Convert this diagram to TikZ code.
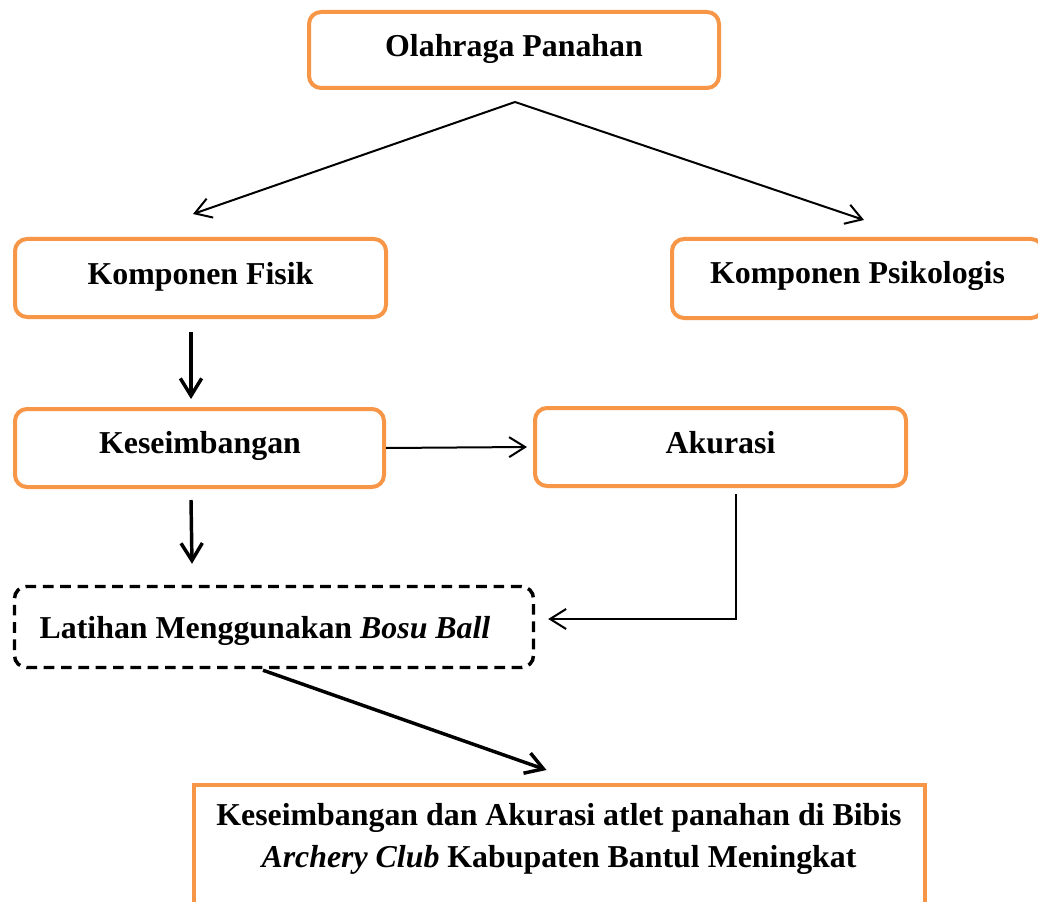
\documentclass[tikz,border=0pt]{standalone}
\usepackage{fontspec}
\setmainfont{Liberation Serif}
\usetikzlibrary{arrows.meta,calc}
\definecolor{boxorange}{HTML}{F79646}
\tikzset{
  obox/.style={draw=boxorange, line width=3pt, rounded corners=9pt, inner sep=0pt},
  sbox/.style={draw=boxorange, line width=3pt, inner sep=0pt},
  dbox/.style={draw=black, line width=2.6pt, rounded corners=9pt, inner sep=0pt, dash pattern=on 8pt off 5pt},
  txt/.style={anchor=base, inner sep=0pt, font=\fontsize{23.9}{30.75}\selectfont\bfseries, align=center},
  thinarrow/.style={line width=1.5pt, -{Straight Barb[length=12pt,width=15pt]}},
  thickarrow/.style={line width=2.6pt, -{Straight Barb[length=13pt,width=16pt]}},
}
\begin{document}
\begin{tikzpicture}[x=0.75pt,y=-0.75pt]
\clip (0,0) rectangle (1038,902);
\fill[white] (0,0) rectangle (1038,902);
% boxes
\node[obox, minimum width={410*0.75pt}, minimum height={76*0.75pt}] (olah) at (514,50) {};
\node[obox, minimum width={371*0.75pt}, minimum height={78*0.75pt}] (fisik) at (200.5,278) {};
\node[obox, minimum width={371*0.75pt}, minimum height={79*0.75pt}] (psiko) at (857.5,278.5) {};
\node[obox, minimum width={369*0.75pt}, minimum height={78*0.75pt}] (kes) at (199.5,448) {};
\node[obox, minimum width={371*0.75pt}, minimum height={78*0.75pt}] (aku) at (720.5,447) {};
\node[dbox, minimum width={519*0.75pt}, minimum height={81*0.75pt}] (lat) at (274,627) {};
\node[sbox, minimum width={731*0.75pt}, minimum height={165*0.75pt}] (hasil) at (559.5,867.5) {};
% texts
\node[txt] (tolah) at (514,57) {Olahraga Panahan};
\node[txt] (tfisik) at (200.5,284) {Komponen Fisik};
\node[txt] (tpsiko) at (857.5,283) {Komponen Psikologis};
\node[txt] (tkes) at (200,453) {Keseimbangan};
\node[txt] (taku) at (720.5,453) {Akurasi};
\node[txt] (tlat) at (265,638) {Latihan Menggunakan \textit{Bosu Ball}};
\node[txt] (thasil1) at (559,825) {Keseimbangan dan Akurasi atlet panahan di Bibis};
\node[txt] (thasil2) at (559,867) {\textit{Archery Club} Kabupaten Bantul Meningkat};
% connectors
\coordinate (split) at ($(olah.south)+(1,12)$);
\coordinate (tipL) at ($(fisik.north)+(-7.5,-23)$);
\coordinate (tipR) at ($(psiko.north)+(6.5,-17)$);
\draw[thinarrow] (split) -- (tipL);
\draw[thinarrow] (split) -- (tipR);
\draw[thickarrow] ($(fisik.south)+(-9.5,13)$) -- ($(kes.north)+(-8.5,-8)$);
\draw[thickarrow] ($(kes.south)+(-8.5,11)$) -- ($(lat.north)+(-82,-21)$);
\draw[thinarrow] (kes.east) -- ($(aku.west)+(-6,0)$);
\coordinate (bend) at ($(aku.south)+(15.5,131)$);
\draw[thinarrow] ($(aku.south)+(15.5,6)$) -- (bend) -- ($(lat.east |- bend)+(13,0)$);
\draw[thickarrow] ($(lat.south)+(-11,1)$) -- ($(hasil.north)+(-13,-13)$);
\end{tikzpicture}
\end{document}
